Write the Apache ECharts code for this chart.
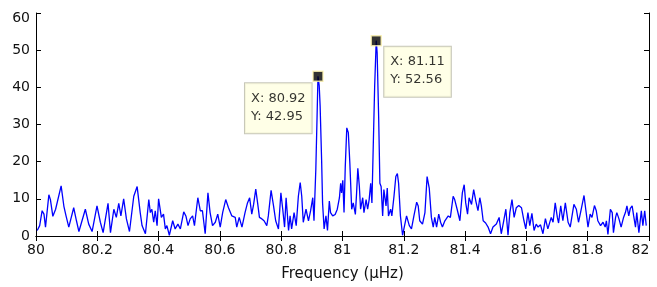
<!DOCTYPE html>
<html>
<head>
<meta charset="utf-8">
<script src="https://cdn.jsdelivr.net/npm/echarts@6/dist/echarts.min.js"></script>
<style>
  html, body { margin: 0; padding: 0; background: #fff; }
  #main { width: 657px; height: 287px; }
</style>
</head>
<body>
<div id="main"></div>
<script>
// spectrum: [frequency (µHz), power]
var spectrum = [
  [80.004, 1.5], [80.012, 2.8], [80.020, 6.8], [80.026, 5.9], [80.031, 2.4], [80.042, 11.1], [80.047, 9.8],
  [80.055, 5.3], [80.064, 7.2], [80.069, 7.6], [80.082, 13.5], [80.091, 8.0], [80.098, 5.4], [80.107, 2.4],
  [80.123, 7.6], [80.132, 4.1], [80.140, 1.2], [80.161, 7.2], [80.172, 3.2], [80.183, 1.2], [80.199, 8.1],
  [80.210, 3.7], [80.219, 0.9], [80.235, 8.8], [80.243, 0.9], [80.254, 7.2], [80.262, 5.0], [80.270, 8.8],
  [80.277, 5.4], [80.286, 10.0], [80.295, 4.6], [80.305, 1.2], [80.319, 10.7], [80.330, 13.3],
  [80.340, 6.3], [80.346, 2.8], [80.351, 3.2], [80.357, 0.6], [80.368, 9.8], [80.373, 6.3], [80.378, 7.2],
  [80.384, 3.7], [80.389, 6.8], [80.395, 2.8], [80.400, 10.0], [80.409, 5.0], [80.416, 5.9], [80.422, 1.9],
  [80.427, 2.8], [80.435, 0.2], [80.446, 4.1], [80.454, 1.9], [80.463, 3.2], [80.471, 1.9], [80.482, 6.5],
  [80.489, 5.4], [80.496, 2.8], [80.503, 4.6], [80.511, 5.4], [80.517, 2.8], [80.528, 10.3], [80.536, 6.8],
  [80.543, 6.8], [80.552, 0.6], [80.561, 11.6], [80.568, 6.3], [80.576, 2.8], [80.585, 3.7], [80.593, 5.9],
  [80.601, 2.4], [80.609, 6.3], [80.619, 9.8], [80.628, 7.6], [80.639, 5.4], [80.650, 5.0], [80.655, 2.4],
  [80.663, 5.0], [80.672, 2.4],
  [80.682, 6.3], [80.690, 8.9], [80.697, 10.3], [80.704, 5.9], [80.710, 8.5], [80.717, 12.6], [80.723, 8.9],
  [80.729, 5.0], [80.737, 4.6], [80.744, 4.1], [80.753, 2.8], [80.758, 5.4], [80.767, 12.3], [80.775, 8.1],
  [80.782, 4.1], [80.791, 1.9], [80.799, 11.6], [80.805, 7.2], [80.811, 2.4], [80.816, 10.3], [80.824, 1.5],
  [80.829, 5.4], [80.834, 1.9], [80.842, 6.3], [80.849, 2.8], [80.856, 10.7], [80.862, 14.4], [80.867, 10.7],
  [80.872, 3.7], [80.881, 7.2], [80.889, 4.1], [80.896, 6.8], [80.903, 10.3], [80.907, 4.1], [80.913, 18.0],
  [80.917, 32.0], [80.920, 42.95], [80.924, 40.5], [80.927, 35.0], [80.932, 20.0], [80.935, 8.9],
  [80.940, 1.9], [80.946, 5.4], [80.951, 1.5], [80.957, 9.4], [80.961, 6.3], [80.968, 5.4], [80.976, 5.8],
  [80.983, 7.2], [80.990, 10.3], [80.994, 14.2], [80.997, 11.6], [81.001, 15.0], [81.005, 6.3], [81.009, 18.6],
  [81.014, 29.1], [81.019, 27.8], [81.024, 19.5], [81.030, 7.2], [81.035, 8.9], [81.042, 5.8], [81.046, 11.6],
  [81.050, 18.2], [81.055, 13.3], [81.059, 7.2], [81.066, 10.3], [81.070, 6.3], [81.077, 9.8], [81.082, 7.2],
  [81.087, 9.8], [81.092, 14.2], [81.096, 8.9], [81.100, 23.0], [81.105, 40.5], [81.110, 52.56], [81.113, 49.3],
  [81.118, 31.8], [81.122, 14.2], [81.126, 13.3], [81.131, 5.4], [81.135, 12.5], [81.142, 8.1], [81.146, 12.9],
  [81.150, 5.4], [81.157, 7.2], [81.161, 5.4], [81.168, 10.7], [81.174, 16.0], [81.179, 16.8], [81.183, 14.2],
  [81.189, 5.4], [81.196, 0.2],
  [81.209, 5.4], [81.218, 2.8], [81.225, 1.9], [81.233, 5.4], [81.242, 9.1], [81.247, 8.1], [81.252, 4.1],
  [81.261, 3.2], [81.269, 6.3], [81.276, 16.0], [81.283, 12.9], [81.290, 5.0], [81.296, 2.4], [81.301, 5.0],
  [81.307, 2.4], [81.314, 5.9], [81.320, 3.7], [81.326, 2.4], [81.334, 4.1], [81.345, 5.4], [81.352, 5.0],
  [81.361, 10.7], [81.366, 9.8], [81.374, 7.2], [81.383, 4.1], [81.391, 11.6], [81.397, 13.8], [81.402, 8.9],
  [81.408, 5.9], [81.413, 10.3], [81.421, 8.5], [81.428, 12.5], [81.435, 9.4], [81.442, 6.8], [81.448, 10.3],
  [81.453, 8.1], [81.459, 4.1], [81.467, 3.5], [81.475, 2.4], [81.483, 0.6], [81.491, 2.4], [81.502, 3.2],
  [81.511, 5.0], [81.518, 0.6], [81.526, 4.1], [81.533, 7.2],
  [81.540, 0.2], [81.546, 6.3], [81.553, 9.8], [81.560, 5.0], [81.567, 7.6], [81.575, 8.2], [81.584, 7.6],
  [81.592, 4.1], [81.598, 1.9], [81.605, 6.3], [81.611, 2.8], [81.618, 6.1], [81.625, 1.5], [81.632, 3.2],
  [81.638, 2.4], [81.646, 3.0], [81.654, 0.6], [81.662, 4.7], [81.670, 1.9], [81.681, 5.0], [81.687, 3.7],
  [81.694, 8.9], [81.701, 5.0], [81.705, 3.5], [81.712, 8.1], [81.719, 4.1], [81.727, 8.9], [81.736, 3.7],
  [81.743, 2.4], [81.755, 8.5], [81.763, 7.2], [81.770, 3.7], [81.779, 7.2], [81.788, 10.9], [81.793, 7.6],
  [81.801, 2.4], [81.808, 5.9], [81.814, 5.0], [81.822, 8.2], [81.828, 6.8], [81.833, 4.1], [81.842, 2.8],
  [81.850, 3.7], [81.857, 2.4], [81.861, 4.1],
  [81.866, 0.4], [81.874, 7.2], [81.880, 6.3], [81.884, 0.9], [81.891, 5.0], [81.895, 6.3], [81.902, 4.6],
  [81.909, 2.4], [81.917, 5.0], [81.923, 6.3], [81.928, 8.1], [81.934, 5.4], [81.939, 7.4], [81.945, 8.1],
  [81.950, 5.4], [81.956, 2.4], [81.960, 6.3], [81.967, 0.9], [81.975, 6.8], [81.980, 2.8], [81.986, 6.8],
  [81.991, 2.8]
];

// data tips
var tipFreq = [80.92, 81.11];
var tipPower = [42.95, 52.56];
// box top-left corner relative to the marker
var tipShift = [[-73, 7], [8, 6]];

var xTickStep = 0.2;
var yTickStep = 10;

var font = 'DejaVu Sans';
var axisColor = '#000';

var myChart = echarts.init(document.getElementById('main'));

function xLabel (v) {
  var s = String(Math.round(v * 10) / 10);
  // matlab pulls the last label inside the figure
  return v > 81.95 ? '{edge|' + s + '}' : s;
}
function yLabel (v) {
  return v >= 60 ? '{edge|' + v + '}' : String(v);
}

var tips = tipFreq.map(function (f, i) {
  return {
    value: [f, tipPower[i]],
    label: { offset: tipShift[i] }
  };
});

var option = {
  animation: false,
  backgroundColor: '#fff',
  grid: { left: 36, right: 8, top: 13, bottom: 46 },
  xAxis: [
    {
      type: 'value',
      min: 80,
      max: 82,
      interval: xTickStep,
      name: 'Frequency (µHz)',
      nameLocation: 'middle',
      nameGap: 31,
      nameTextStyle: { color: '#111', fontFamily: font, fontSize: 15 },
      axisLine: { lineStyle: { color: axisColor, width: 1 } },
      axisTick: { inside: true, length: 5, lineStyle: { color: axisColor } },
      splitLine: { show: false },
      axisLabel: {
        margin: 7,
        color: '#111',
        fontFamily: font,
        fontSize: 14,
        formatter: xLabel,
        rich: { edge: { padding: [0, 17, 0, 0], fontFamily: font, fontSize: 14, color: '#111' } }
      }
    },
    {
      type: 'value',
      position: 'top',
      min: 80,
      max: 82,
      interval: xTickStep,
      axisLine: { lineStyle: { color: axisColor, width: 1 } },
      axisTick: { inside: true, length: 5, lineStyle: { color: axisColor } },
      axisLabel: { show: false },
      splitLine: { show: false }
    }
  ],
  yAxis: [
    {
      type: 'value',
      min: 0,
      max: 60,
      interval: yTickStep,
      axisLine: { show: true, lineStyle: { color: axisColor, width: 1 } },
      axisTick: { show: true, inside: true, length: 5, lineStyle: { color: axisColor } },
      splitLine: { show: false },
      axisLabel: {
        margin: 6,
        color: '#111',
        fontFamily: font,
        fontSize: 14,
        formatter: yLabel,
        rich: { edge: { padding: [10, 0, 0, 0], fontFamily: font, fontSize: 14, color: '#111' } }
      }
    },
    {
      type: 'value',
      position: 'right',
      min: 0,
      max: 60,
      interval: yTickStep,
      axisLine: { show: true, lineStyle: { color: axisColor, width: 1 } },
      axisTick: { show: true, inside: true, length: 5, lineStyle: { color: axisColor } },
      axisLabel: { show: false },
      splitLine: { show: false }
    }
  ],
  series: [
    {
      type: 'line',
      data: spectrum,
      showSymbol: false,
      smooth: false,
      lineStyle: { color: '#0000ff', width: 1.3 },
      z: 2
    },
    {
      type: 'scatter',
      data: tips,
      symbol: 'rect',
      symbolSize: 10,
      itemStyle: { color: '#000', borderColor: '#fff5b0', borderWidth: 1.5 },
      z: 5,
      label: {
        show: true,
        position: 'inside',
        align: 'left',
        verticalAlign: 'top',
        formatter: function (p) {
          return 'X: ' + p.value[0].toFixed(2) + '\nY: ' + p.value[1].toFixed(2);
        },
        color: '#000',
        fontFamily: font,
        fontSize: 13,
        lineHeight: 18,
        backgroundColor: '#ffffe1',
        borderColor: '#b9b9a8',
        borderWidth: 1,
        padding: [6, 6, 8, 6]
      }
    }
  ]
};

myChart.setOption(option);
</script>
</body>
</html>
